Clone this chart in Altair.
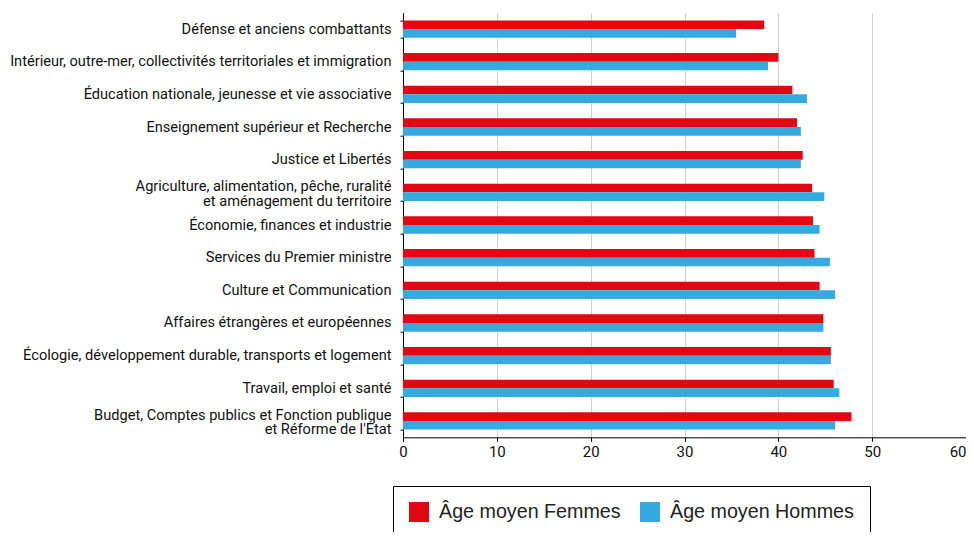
import altair as alt
import pandas as pd

categories = [
    "Défense et anciens combattants",
    "Intérieur, outre-mer, collectivités territoriales et immigration",
    "Éducation nationale, jeunesse et vie associative",
    "Enseignement supérieur et Recherche",
    "Justice et Libertés",
    "Agriculture, alimentation, pêche, ruralité|et aménagement du territoire",
    "Économie, finances et industrie",
    "Services du Premier ministre",
    "Culture et Communication",
    "Affaires étrangères et européennes",
    "Écologie, développement durable, transports et logement",
    "Travail, emploi et santé",
    "Budget, Comptes publics et Fonction publique|et Réforme de l'État",
]
femmes = [38.5, 40.0, 41.5, 42.0, 42.6, 43.6, 43.7, 43.85, 44.4, 44.8, 45.6, 45.9, 47.8]
hommes = [35.5, 38.9, 43.05, 42.4, 42.4, 44.9, 44.4, 45.5, 46.05, 44.8, 45.6, 46.5, 46.05]
series = ["Âge moyen Femmes", "Âge moyen Hommes"]
colors = ["#E30613", "#36A9E1"]
x_ticks = [0, 10, 20, 30, 40, 50, 60]

rows = []
for c, f, h in zip(categories, femmes, hommes):
    rows.append({"cat": c, "serie": series[0], "val": f})
    rows.append({"cat": c, "serie": series[1], "val": h})
df = pd.DataFrame(rows)

label_font = "Roboto"

chart = alt.Chart(df).mark_bar().encode(
    y=alt.Y("cat:N", sort=categories, title=None,
            scale=alt.Scale(paddingInner=0.47, paddingOuter=0.235),
            axis=alt.Axis(labelExpr="split(datum.label, '|')", tickBand="extent",
                          tickSize=3, labelPadding=9, labelFont=label_font,
                          labelFontSize=14.6, labelColor="#111", labelLineHeight=14.3,
                          labelOffset=alt.condition("indexof(datum.label, '|') >= 0",
                                                    alt.value(-5.5), alt.value(0)),
                          labelLimit=400, domainColor="#000", tickColor="#000",
                          grid=False)),
    yOffset=alt.YOffset("serie:N", sort=series, scale=alt.Scale(paddingInner=0, paddingOuter=0)),
    x=alt.X("val:Q", title=None,
            scale=alt.Scale(domain=[0, 60], nice=False),
            axis=alt.Axis(values=x_ticks, tickSize=4, labelPadding=3,
                          labelFont=label_font, labelFontSize=15, labelColor="#111",
                          labelAlign=alt.condition("datum.value == 60", alt.value("right"), alt.value("center")),
                          domainColor="#000", tickColor="#000",
                          grid=True, gridColor="#cfcfcf", gridWidth=1)),
    color=alt.Color("serie:N", sort=series,
                    scale=alt.Scale(domain=series, range=colors),
                    legend=alt.Legend(title=None, orient="none", direction="horizontal",
                                      legendX=-10, legendY=473.3,
                                      symbolType="square", symbolSize=400,
                                      symbolStrokeWidth=0, labelOffset=10,
                                      columnPadding=19, padding=16, labelLimit=400,
                                      strokeColor="#000", labelFont="Liberation Sans",
                                      labelFontSize=19.7, labelColor="#222")),
).properties(
    width=563,
    height=424.6,
    autosize=alt.AutoSizeParams(type="none"),
    padding={"left": 395, "top": 4.7, "right": 0, "bottom": 94.7},
).configure_view(stroke=None).configure_axis(domainWidth=1)

chart.save("out.html", embed_options={"renderer": "svg", "actions": False})
